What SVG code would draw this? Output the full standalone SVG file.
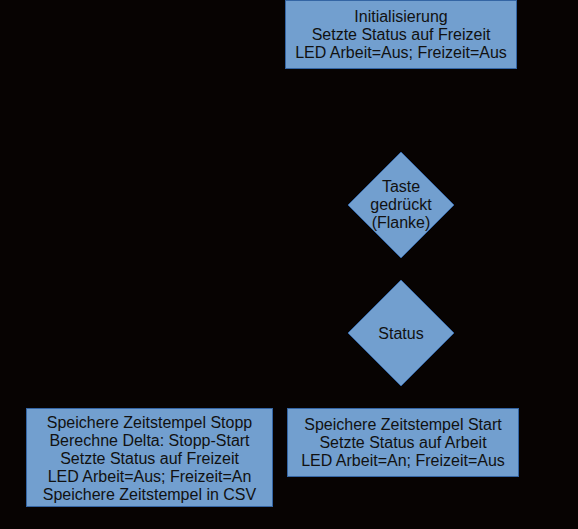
<svg xmlns="http://www.w3.org/2000/svg" width="578" height="529" viewBox="0 0 578 529">
<defs>
<style>
.n{fill:#729fcf;stroke:#3465a4;stroke-width:1}
.t{font-family:"Liberation Sans",Arial,sans-serif;font-size:16px;fill:#111;text-anchor:middle}
</style>
</defs>
<rect width="578" height="529" fill="#070302"/>
<g id="connectors"></g>
<g id="init">
<rect class="n" x="285.5" y="0.5" width="231" height="68"/>
<text class="t" x="401" y="21.5">Initialisierung</text>
<text class="t" x="401" y="39.5">Setzte Status auf Freizeit</text>
<text class="t" x="401" y="57.5">LED Arbeit=Aus; Freizeit=Aus</text>
</g>
<g id="taste">
<polygon class="n" points="401,152 454,205 401,258 348,205"/>
<text class="t" x="401" y="192">Taste</text>
<text class="t" x="401" y="210">gedrückt</text>
<text class="t" x="401" y="227.5">(Flanke)</text>
</g>
<g id="status">
<polygon class="n" points="401,280 454,333 401,386 348,333"/>
<text class="t" x="401" y="338.5">Status</text>
</g>
<g id="stopp">
<rect class="n" x="26.5" y="408.5" width="246" height="98"/>
<text class="t" x="149.5" y="427.5">Speichere Zeitstempel Stopp</text>
<text class="t" x="149.5" y="445.5">Berechne Delta: Stopp-Start</text>
<text class="t" x="149.5" y="463.5">Setzte Status auf Freizeit</text>
<text class="t" x="149.5" y="481.5">LED Arbeit=Aus; Freizeit=An</text>
<text class="t" x="149.5" y="499.5">Speichere Zeitstempel in CSV</text>
</g>
<g id="start">
<rect class="n" x="287.5" y="408.5" width="231" height="68"/>
<text class="t" x="403" y="430">Speichere Zeitstempel Start</text>
<text class="t" x="403" y="448">Setzte Status auf Arbeit</text>
<text class="t" x="403" y="466">LED Arbeit=An; Freizeit=Aus</text>
</g>
</svg>
